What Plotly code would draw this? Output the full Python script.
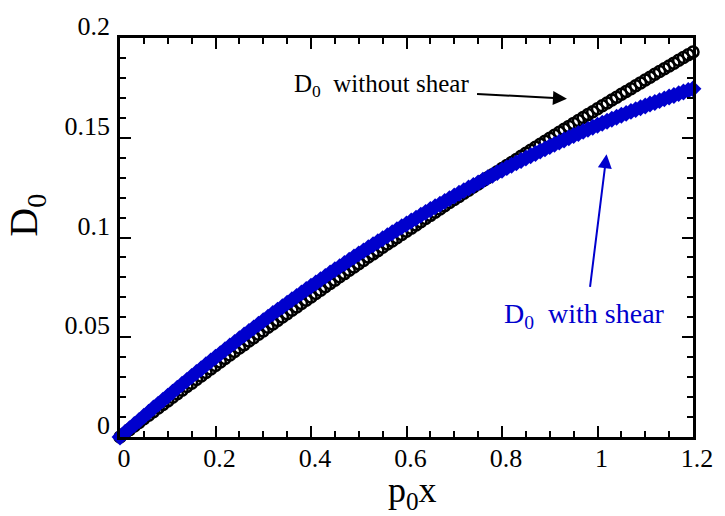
import plotly.graph_objects as go

# Grid of p0*x values (step 0.01 from 0 to 1.2)
p0x = [round(i * 0.01, 2) for i in range(121)]

# D0 without shear
d0_no_shear = [
    0.0000, 0.0018, 0.0037, 0.0055, 0.0073, 0.0091, 0.0109, 0.0127, 0.0145, 0.0163,
    0.0181, 0.0199, 0.0217, 0.0235, 0.0253, 0.0270, 0.0288, 0.0306, 0.0323, 0.0341,
    0.0359, 0.0376, 0.0394, 0.0411, 0.0429, 0.0446, 0.0463, 0.0481, 0.0498, 0.0515,
    0.0532, 0.0550, 0.0567, 0.0584, 0.0601, 0.0618, 0.0635, 0.0652, 0.0669, 0.0686,
    0.0702, 0.0719, 0.0736, 0.0753, 0.0769, 0.0786, 0.0803, 0.0819, 0.0836, 0.0852,
    0.0869, 0.0885, 0.0902, 0.0918, 0.0934, 0.0951, 0.0967, 0.0983, 0.0999, 0.1015,
    0.1031, 0.1047, 0.1063, 0.1079, 0.1095, 0.1111, 0.1127, 0.1143, 0.1159, 0.1175,
    0.1190, 0.1206, 0.1222, 0.1237, 0.1253, 0.1268, 0.1284, 0.1299, 0.1315, 0.1330,
    0.1346, 0.1361, 0.1376, 0.1391, 0.1407, 0.1422, 0.1437, 0.1452, 0.1467, 0.1482,
    0.1497, 0.1512, 0.1527, 0.1542, 0.1557, 0.1572, 0.1586, 0.1601, 0.1616, 0.1630,
    0.1645, 0.1660, 0.1674, 0.1689, 0.1703, 0.1718, 0.1732, 0.1746, 0.1761, 0.1775,
    0.1789, 0.1803, 0.1818, 0.1832, 0.1846, 0.1860, 0.1874, 0.1888, 0.1902, 0.1916,
    0.1930,
]

# D0 with shear
d0_shear = [
    0.0000, 0.0021, 0.0042, 0.0063, 0.0083, 0.0104, 0.0124, 0.0145, 0.0165, 0.0185,
    0.0205, 0.0225, 0.0245, 0.0265, 0.0284, 0.0304, 0.0323, 0.0342, 0.0362, 0.0381,
    0.0400, 0.0418, 0.0437, 0.0456, 0.0474, 0.0493, 0.0511, 0.0529, 0.0547, 0.0565,
    0.0583, 0.0601, 0.0619, 0.0636, 0.0653, 0.0671, 0.0688, 0.0705, 0.0722, 0.0739,
    0.0756, 0.0772, 0.0789, 0.0805, 0.0822, 0.0838, 0.0854, 0.0870, 0.0886, 0.0902,
    0.0918, 0.0933, 0.0949, 0.0964, 0.0979, 0.0994, 0.1009, 0.1024, 0.1039, 0.1054,
    0.1068, 0.1083, 0.1097, 0.1112, 0.1126, 0.1140, 0.1154, 0.1167, 0.1181, 0.1195,
    0.1208, 0.1222, 0.1235, 0.1248, 0.1261, 0.1274, 0.1287, 0.1300, 0.1312, 0.1325,
    0.1337, 0.1350, 0.1362, 0.1374, 0.1386, 0.1398, 0.1410, 0.1421, 0.1433, 0.1444,
    0.1456, 0.1467, 0.1478, 0.1489, 0.1500, 0.1511, 0.1521, 0.1532, 0.1542, 0.1553,
    0.1563, 0.1573, 0.1583, 0.1593, 0.1603, 0.1613, 0.1622, 0.1632, 0.1641, 0.1650,
    0.1659, 0.1669, 0.1677, 0.1686, 0.1695, 0.1704, 0.1712, 0.1721, 0.1729, 0.1737,
    0.1745,
]

x_tick_vals = [0, 0.2, 0.4, 0.6, 0.8, 1.0, 1.2]
x_tick_text = ["0", "0.2", "0.4", "0.6", "0.8", "1", "1.2"]
y_tick_vals = [0, 0.05, 0.1, 0.15, 0.2]
y_tick_text = ["0", "0.05", "0.1", "0.15", "0.2"]

BLUE = "rgb(0,0,205)"
FONT = "Liberation Serif"

fig = go.Figure()
fig.add_trace(go.Scatter(
    x=p0x, y=d0_no_shear, mode="markers", name="without shear",
    marker=dict(symbol="circle-open", size=11, color="black", line=dict(width=2.5, color="black")),
    cliponaxis=False,
))
fig.add_trace(go.Scatter(
    x=p0x, y=d0_shear, mode="markers", name="with shear",
    marker=dict(symbol="diamond", size=13, color=BLUE, line=dict(width=0)),
    cliponaxis=False,
))

axis_common = dict(
    showline=True, linewidth=2.5, linecolor="black", mirror="ticks",
    ticks="inside", ticklen=11, tickwidth=2, tickcolor="black",
    showgrid=False, zeroline=False,
    tickfont=dict(family=FONT, size=26, color="black"),
)

fig.update_xaxes(
    range=[0, 1.2], tickvals=x_tick_vals, ticktext=x_tick_text,
    minor=dict(dtick=0.05, ticks="inside", ticklen=6, tickwidth=1.5, tickcolor="black"),
    ticklabelshift=4, ticklabelstandoff=-4,
    **axis_common,
)
fig.update_yaxes(
    range=[0, 0.2], tickvals=y_tick_vals, ticktext=y_tick_text,
    minor=dict(dtick=0.01, ticks="inside", ticklen=6, tickwidth=1.5, tickcolor="black"),
    ticklabelshift=-12, ticklabelstandoff=2,
    **axis_common,
)

annotations = [
    # axis titles
    dict(xref="paper", yref="paper", x=-0.163, y=0.556, xanchor="center", yanchor="middle",
         text="D<sub>0</sub>", textangle=-90, showarrow=False,
         font=dict(family=FONT, size=40, color="black")),
    dict(xref="paper", yref="paper", x=0.511, y=-0.14, xanchor="center", yanchor="middle",
         text="p<sub>0</sub>x", showarrow=False,
         font=dict(family=FONT, size=36, color="black")),
    # curve labels and pointers
    dict(x=0.547, y=0.176, text="D<sub>0</sub>&nbsp; without&nbsp;shear", showarrow=False,
         font=dict(family=FONT, size=25, color="black")),
    dict(x=0.936, y=0.1696, ax=0.7446, ay=0.172, axref="x", ayref="y", text="",
         showarrow=True, arrowhead=2, arrowsize=1.4, arrowwidth=2, arrowcolor="black"),
    dict(x=0.973, y=0.0608, text="D<sub>0</sub>&nbsp; with&nbsp;shear", showarrow=False,
         font=dict(family=FONT, size=28, color=BLUE)),
    dict(x=1.019, y=0.1417, ax=0.984, ay=0.0745, axref="x", ayref="y", text="",
         showarrow=True, arrowhead=2, arrowsize=1.4, arrowwidth=2, arrowcolor=BLUE),
]

fig.update_layout(
    width=725, height=516,
    margin=dict(l=120, r=28, t=29, b=79),
    paper_bgcolor="white", plot_bgcolor="white",
    showlegend=False,
    annotations=annotations,
)

fig.write_html("out.html")
